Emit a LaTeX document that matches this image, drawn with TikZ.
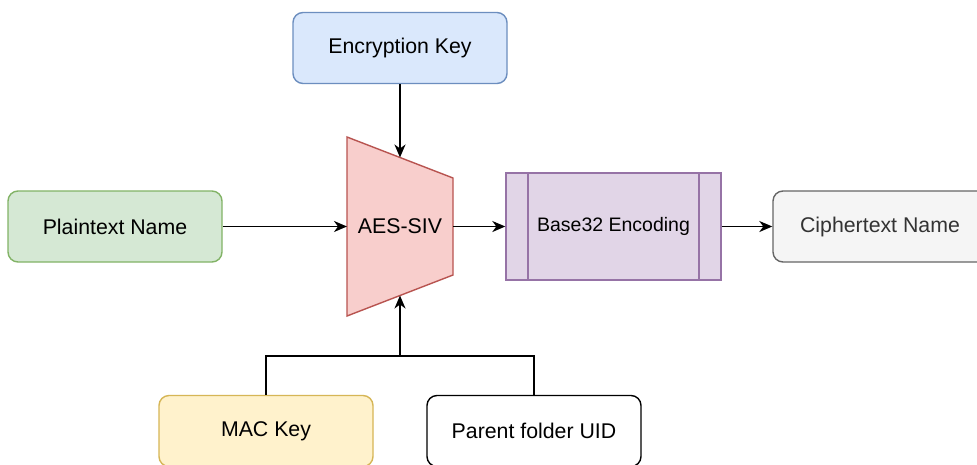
\documentclass[tikz,border=0pt]{standalone}
\usepackage{fontspec}
\setmainfont{Liberation Sans}
\usetikzlibrary{arrows.meta}

\definecolor{blueFill}{HTML}{DAE8FC}\definecolor{blueLine}{HTML}{6C8EBF}
\definecolor{greenFill}{HTML}{D5E8D4}\definecolor{greenLine}{HTML}{82B366}
\definecolor{redFill}{HTML}{F8CECC}\definecolor{redLine}{HTML}{B85450}
\definecolor{purpleFill}{HTML}{E1D5E7}\definecolor{purpleLine}{HTML}{9673A6}
\definecolor{yellowFill}{HTML}{FFF2CC}\definecolor{yellowLine}{HTML}{D6B656}
\definecolor{greyFill}{HTML}{F5F5F5}\definecolor{greyLine}{HTML}{666666}
\definecolor{greyText}{HTML}{333333}

\tikzset{
  box/.style={draw, rounded corners=10pt, line width=1.4pt, inner sep=0pt,
    minimum width=214pt, minimum height=71pt,
    font=\fontsize{21.3}{25}\selectfont},
  link/.style={line width=1.6pt, -{Stealth[length=13pt,width=11pt,inset=4pt]}},
  plain/.style={line width=1.6pt}
}

\begin{document}
\begin{tikzpicture}[x=1pt,y=-1pt]
\clip (0,0) rectangle (977,464);
\fill[white] (0,0) rectangle (977,464);

% input / output boxes
\node[box, fill=blueFill, draw=blueLine] (enc) at (400,48) {Encryption Key};
\node[box, fill=greenFill, draw=greenLine] (plain) at (115,226.5) {Plaintext Name};
\node[box, fill=greyFill, draw=greyLine, text=greyText] (cipher) at (880,226.5) {Ciphertext Name};
\node[box, fill=yellowFill, draw=yellowLine] (mac) at (266,431) {MAC Key};
\node[box, fill=white, draw=black] (uid) at (534,431) {Parent folder UID};

% AES-SIV block (trapezoid)
\draw[fill=redFill, draw=redLine, line width=1.4pt, line join=miter]
  (347,137) -- (453,178) -- (453,275) -- (347,316) -- cycle;
\node[font=\fontsize{21.3}{25}\selectfont] (aes) at (400,226.5) {AES-SIV};
\coordinate (aesTop) at (400,157.5);
\coordinate (aesBot) at (400,295.5);
\coordinate (aesIn) at (347,226.5);
\coordinate (aesOut) at (453,226.5);

% Base32 encoding (process box)
\node[draw=purpleLine, fill=purpleFill, line width=1.4pt, inner sep=0pt,
  minimum width=215pt, minimum height=107pt,
  font=\fontsize{19.5}{23}\selectfont] (b32) at (613.5,226.5) {Base32 Encoding};
\draw[purpleLine, line width=1.4pt] (528,173) -- (528,280) (699,173) -- (699,280);

% connectors
\draw[link] (enc.south) -- (aesTop);
\draw[link] (plain.east) -- (aesIn);
\draw[link] (aesOut) -- (b32.west);
\draw[link] (b32.east) -- (cipher.west);
\coordinate (join) at (400,356);
\draw[plain] (mac.north) |- (join) -| (uid.north);
\draw[link] (join) -- (aesBot);
\end{tikzpicture}
\end{document}
